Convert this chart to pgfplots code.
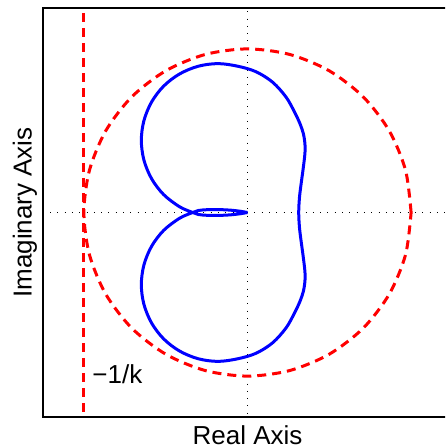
\documentclass[border=0pt]{standalone}
\usepackage{pgfplots}
\pgfplotsset{compat=1.18}
\usepackage{fontspec}
\setmainfont{Liberation Sans}
\definecolor{mred}{RGB}{255,0,0}
\definecolor{mblue}{RGB}{0,0,255}
\begin{document}
\begin{tikzpicture}
\useasboundingbox (-43pt,-30pt) rectangle (402pt,417pt);
\clip (-43pt,-30pt) rectangle (402pt,417pt);
\begin{axis}[at={(0pt,0pt)}, anchor=south west, scale only axis,
  width=409pt, height=409pt,
  xmin=-1.25, xmax=1.25, ymin=-1.25, ymax=1.25,
  xtick=\empty, ytick=\empty,
  axis line style={line width=1.2pt},
  clip=true]
\addplot[black, line width=1pt, dash pattern=on 1pt off 6.3pt] coordinates {(-1.207,0) (1.25,0)};
\addplot[black, line width=1pt, dash pattern=on 1pt off 6.3pt] coordinates {(0,1.23) (0,-1.23)};
\addplot[mblue, line width=3pt, smooth, tension=0.55, line join=round] coordinates {
(0,0) (-0.040,0.007) (-0.100,0.014) (-0.180,0.018) (-0.250,0.017) (-0.301,0.012) (-0.335,0)
(-0.415,-0.035) (-0.512,-0.109) (-0.586,-0.206) (-0.633,-0.320) (-0.649,-0.441) (-0.633,-0.562)
(-0.586,-0.676) (-0.512,-0.773) (-0.415,-0.847) (-0.301,-0.894) (-0.180,-0.910) (-0.059,-0.894)
(0.053,-0.860) (0.154,-0.796) (0.236,-0.705) (0.288,-0.613) (0.322,-0.540) (0.342,-0.480)
(0.351,-0.421) (0.352,-0.380) (0.349,-0.339) (0.339,-0.258) (0.328,-0.177) (0.318,-0.095)
(0.313,0)
(0.318,0.095) (0.328,0.177) (0.339,0.258) (0.349,0.339) (0.352,0.380) (0.351,0.421)
(0.342,0.480) (0.322,0.540) (0.288,0.613) (0.236,0.705) (0.154,0.796) (0.053,0.860)
(-0.059,0.894) (-0.180,0.910) (-0.301,0.894) (-0.415,0.847) (-0.512,0.773) (-0.586,0.676)
(-0.633,0.562) (-0.649,0.441) (-0.633,0.320) (-0.586,0.206) (-0.512,0.109) (-0.415,0.035)
(-0.335,0)
(-0.301,-0.012) (-0.250,-0.017) (-0.180,-0.018) (-0.100,-0.014) (-0.040,-0.007) (0,0)
};
\addplot[mred, line width=3pt, dash pattern=on 9pt off 6pt, smooth] coordinates {
(1,0) (0.9659,0.2588) (0.8660,0.5) (0.7071,0.7071) (0.5,0.8660) (0.2588,0.9659)
(0,1) (-0.2588,0.9659) (-0.5,0.8660) (-0.7071,0.7071) (-0.8660,0.5) (-0.9659,0.2588)
(-1,0) (-0.9659,-0.2588) (-0.8660,-0.5) (-0.7071,-0.7071) (-0.5,-0.8660) (-0.2588,-0.9659)
(0,-1) (0.2588,-0.9659) (0.5,-0.8660) (0.7071,-0.7071) (0.8660,-0.5) (0.9659,-0.2588) (1,0)
};
\addplot[mred, line width=3pt, dash pattern=on 9pt off 6pt] coordinates {(-1.0,1.22) (-1.0,-1.25)};
\coordinate (kl) at (axis cs:-0.949,-1.043);
\end{axis}
\node[anchor=base, inner sep=0pt, font=\fontsize{26}{30}\selectfont] at (204.5pt,-27.8pt) {Real Axis};
\node[rotate=90, anchor=base, inner sep=0pt, font=\fontsize{26}{30}\selectfont] at (-11.3pt,204.5pt) {Imaginary Axis};
\node[anchor=base west, inner sep=0pt, font=\fontsize{26}{30}\selectfont] at (kl) {−1/k};
\end{tikzpicture}
\end{document}
